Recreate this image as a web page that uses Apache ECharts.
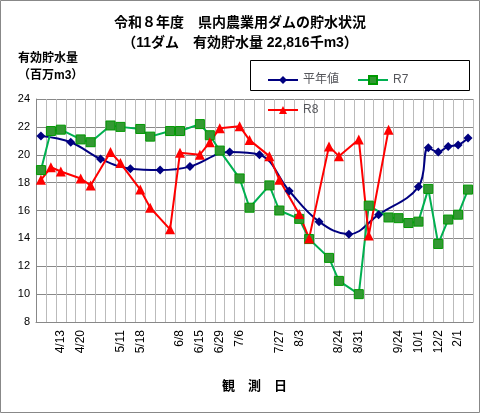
<!DOCTYPE html>
<html><head><meta charset="utf-8">
<script src="https://cdn.jsdelivr.net/npm/echarts@6/dist/echarts.min.js"></script>
<style>html,body{margin:0;padding:0;background:#fff}#c{width:480px;height:413px}</style>
</head><body><div id="c"></div>
<script>
var categories = ["4/6","4/10","4/13","4/17","4/20","4/25","4/30","5/6","5/11","5/15","5/18","5/22","5/27","6/1","6/8","6/11","6/15","6/22","6/29","7/2","7/6","7/10","7/15","7/20","7/27","7/30","8/3","8/7","8/13","8/18","8/24","8/27","8/31","9/3","9/10","9/17","9/24","9/27","10/1","11/1","12/2","1/5","2/1","3/1"];
var shownLabels = ["4/13","4/20","5/11","5/18","6/8","6/15","6/29","7/6","7/27","8/3","8/24","8/31","9/24","10/1","12/2","2/1"];
var heinen = [21.35,null,null,20.9,null,null,19.7,null,null,19.0,null,null,18.9,null,null,19.15,null,null,null,20.2,null,null,20.0,null,null,17.4,null,null,15.2,null,null,14.3,null,null,15.7,null,null,null,17.7,20.5,20.2,20.6,20.7,21.2];
var r7 = [18.9,21.7,21.8,null,21.1,20.9,null,22.1,22.0,null,21.85,21.3,null,21.7,21.7,null,22.2,21.4,20.3,null,18.3,16.2,null,17.8,16.0,null,15.4,13.95,null,12.6,10.95,null,10.0,16.35,null,15.5,15.45,15.1,15.2,17.55,13.6,15.35,15.7,17.5];
var r8 = [18.2,19.1,18.8,null,18.3,17.8,null,20.2,19.4,null,17.5,16.2,null,14.65,20.15,null,20.0,20.9,21.9,null,22.05,21.05,null,19.9,18.2,null,15.75,14.0,null,20.6,19.9,null,21.1,14.2,null,21.8,null,null,null,null,null,null,null,null];
var yTicks = {min:8,max:24,interval:2};

var ch = echarts.init(document.getElementById('c'));
var F = "'Liberation Sans','Noto Sans CJK JP',sans-serif";
ch.setOption({
  animation:false,
  textStyle:{fontFamily:F,color:'#000'},
  title:{text:'令和８年度　県内農業用ダムの貯水状況\n（11ダム　有効貯水量 22,816千m3）',left:'center',top:8,
    textStyle:{fontSize:14,fontWeight:'bold',lineHeight:20,fontFamily:F,color:'#000'}},
  graphic:[
    {type:'rect',shape:{x:0.5,y:0.5,width:479,height:412},style:{fill:'none',stroke:'#888'}},
    {type:'text',left:18,top:50,style:{text:'有効貯水量\n（百万m3）',font:'bold 12px '+F,lineHeight:17,fill:'#000'}},
    {type:'rect',shape:{x:250.5,y:60.5,width:219,height:30},style:{fill:'#fff',stroke:'#000'}}
  ],
  legend:{top:69,left:262,width:210,itemGap:18,itemWidth:30,itemHeight:10,textStyle:{fontSize:12,fontFamily:F},
    data:['平年値','R7','R8']},
  grid:{left:36,right:7,top:99,bottom:91},
  xAxis:{type:'category',data:categories,boundaryGap:true,
    name:'観　測　日',nameLocation:'middle',nameGap:58,nameTextStyle:{fontSize:13,fontWeight:'bold'},
    axisLine:{lineStyle:{color:'#888'}},axisTick:{show:false},
    splitLine:{show:true,interval:0,lineStyle:{color:'#bbb',width:1}},
    axisLabel:{rotate:90,fontSize:12,color:'#000',margin:8,
      interval:function(i,v){return shownLabels.indexOf(v)>=0;}}},
  yAxis:{type:'value',min:yTicks.min,max:yTicks.max,interval:yTicks.interval,
    axisLine:{show:true,lineStyle:{color:'#888'}},axisTick:{show:false},
    axisLabel:{fontSize:11,color:'#000',margin:6},
    splitLine:{lineStyle:{color:'#888'}}},
  series:[
    {name:'平年値',type:'line',data:heinen,connectNulls:true,smooth:0.4,showAllSymbol:true,symbol:'diamond',symbolSize:9,
      lineStyle:{color:'#000080',width:2},itemStyle:{color:'#000080'}},
    {name:'R7',type:'line',data:r7,connectNulls:true,showAllSymbol:true,symbol:'rect',symbolSize:9,
      lineStyle:{color:'#00b050',width:2},itemStyle:{color:'#339933',borderColor:'#009900',borderWidth:1}},
    {name:'R8',type:'line',data:r8,connectNulls:true,showAllSymbol:true,symbol:'triangle',symbolSize:10,
      lineStyle:{color:'#ff0000',width:2},itemStyle:{color:'#ff0000'}}
  ]
});
</script></body></html>
